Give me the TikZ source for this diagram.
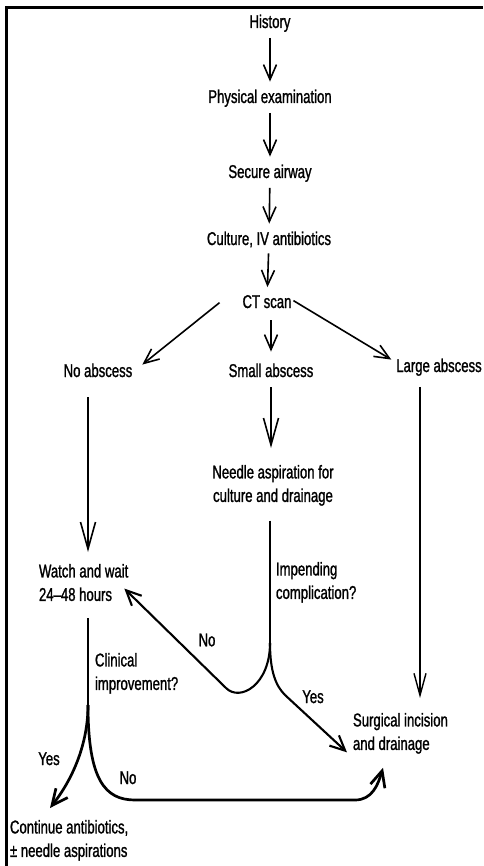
\documentclass[tikz,border=0pt]{standalone}
\usepackage{fontspec}
\setmainfont{Liberation Sans}[FakeStretch=0.71,FakeBold=1.2]
\usetikzlibrary{arrows.meta,calc}

\tikzset{
  txt/.style={inner sep=0pt, outer sep=0pt, font=\fontsize{18.5}{23.5}\selectfont},
  flow/.style={line width=1.6pt, -{Straight Barb[length=15pt,width=13pt]}},
  longflow/.style={line width=1.6pt, -{Straight Barb[length=27pt,width=15pt]}},
  stem/.style={line width=1.4pt},
  branch/.style={line width=2.1pt, -{Straight Barb[length=15pt,width=14pt]}},
  heavy/.style={line width=2.7pt, -{Straight Barb[length=16pt,width=15pt]}}
}

\begin{document}
\begin{tikzpicture}[x=1pt,y=-1pt]
\useasboundingbox (0,0) rectangle (483,866);
\draw[line width=3pt] (6.3,866) -- (6.3,8) -- (483,8);

% main column
\node[txt,anchor=base] (hist) at (270,28) {History};
\node[txt,anchor=base] (phys) at (270,103) {Physical examination};
\node[txt,anchor=base] (airway) at (270,178) {Secure airway};
\node[txt,anchor=base] (cult) at (269,245) {Culture, IV antibiotics};
\node[txt,anchor=base] (ct) at (267,308) {CT scan};

% findings
\node[txt,anchor=base] (noab) at (98,377) {No abscess};
\node[txt,anchor=base] (small) at (271,377) {Small abscess};
\node[txt,anchor=base] (large) at (439,372) {Large abscess};

\node[txt,anchor=north,align=center] (needle) at (273,465) {Needle aspiration for\\culture and drainage};
\node[txt,anchor=north west,align=left] (watch) at (39,564) {Watch and wait\\24--48 hours};
\node[txt,anchor=north west,align=left] (impend) at (276,562) {Impending\\complication?};
\node[txt,anchor=north west,align=left] (clin) at (95,653) {Clinical\\improvement?};
\node[txt,anchor=north west,align=left] (surg) at (353,713) {Surgical incision\\and drainage};
\node[txt,anchor=north west,align=left] (cont) at (10,820) {Continue antibiotics,\\± needle aspirations};

% answers
\node[txt] (no1) at (207,640) {No};
\node[txt,anchor=base] (yes1) at (313,703) {Yes};
\node[txt,anchor=base] (yes2) at (49,765) {Yes};
\node[txt,anchor=base] (no2) at (128,784) {No};

\coordinate (split1) at (270,643);
\coordinate (split2) at (88,705);

% chain
\draw[flow,shorten <=6pt,shorten >=8pt] (hist) -- (phys);
\draw[flow,shorten <=6pt,shorten >=8pt] (phys) -- (airway);
\draw[flow,shorten <=6pt,shorten >=8pt] (airway) -- (cult);
\draw[flow,shorten <=6pt,shorten >=8pt] (cult) -- (ct);

% ct scan
\draw[flow,shorten <=12pt,shorten >=12pt] (ct.south -| small.north) -- (small.north);
\draw[flow] ([xshift=-23pt,yshift=-1pt]ct.west) -- ([xshift=10pt,yshift=-1pt]noab.north east);
\draw[flow] ([xshift=2pt,yshift=1pt]ct.east) -- ([xshift=-5pt,yshift=-1pt]large.north west);

\draw[longflow,shorten <=10pt,shorten >=17pt] (small.south) -- (small.south |- needle.north);
\draw[longflow,shorten <=20pt,shorten >=12pt] (noab.south -| split2) -- (watch.north -| split2);
\draw[stem,-{Straight Barb[length=22pt,width=12pt]},shorten <=11pt,shorten >=15pt]
  ([xshift=-19pt]large.south) -- ([xshift=-19pt]large.south |- surg.north);

% impending complication
\draw[stem,shorten <=15pt] (needle.south -| split1) -- (split1);
\draw[branch] (split1) .. controls (270,685) and (240,702) .. (226,688)
  -- ([shift={(-4pt,-6pt)}]watch.east);
\draw[branch] (split1) .. controls (270,672) and (276,686) .. (285,695)
  -- ([shift={(-6pt,-19pt)}]surg.west);

% clinical improvement
\draw[stem,shorten <=17pt] (watch.south -| split2) -- (split2);
\draw[heavy] (split2) .. controls (88,745) and (72,780) .. ([shift={(40pt,12pt)}]cont.north west);
\draw[heavy] (split2) .. controls (88,780) and (105,800) .. (135,800) -- (355,800)
  .. controls (372,800) and (378,785) .. ([shift={(30pt,-14pt)}]surg.south west);
\end{tikzpicture}
\end{document}
